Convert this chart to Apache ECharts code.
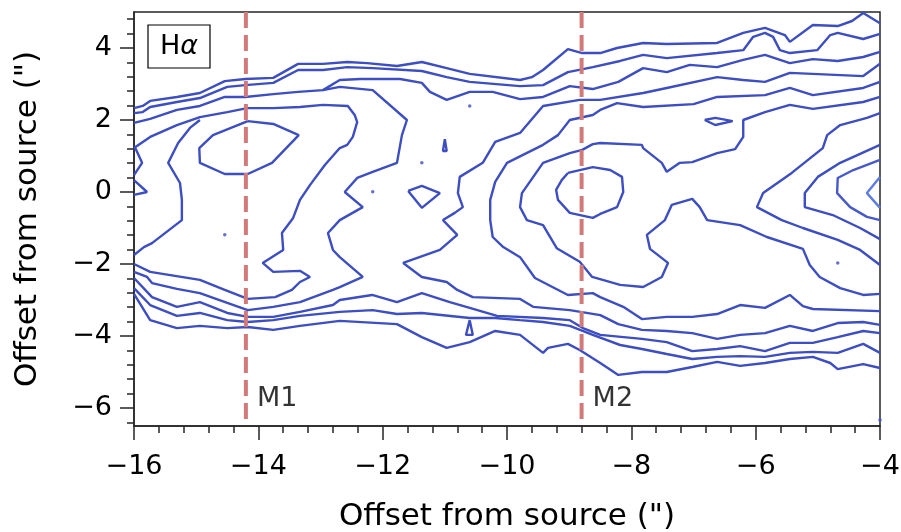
<!DOCTYPE html>
<html>
<head>
<meta charset="utf-8">
<script src="https://cdn.jsdelivr.net/npm/echarts@6/dist/echarts.min.js"></script>
<style>
  html, body { margin: 0; padding: 0; background: #ffffff; }
  #chart { width: 901px; height: 532px; }
</style>
</head>
<body>
<div id="chart"></div>
<script>
// Axis ticks
const xTicks = [-16, -14, -12, -10, -8, -6, -4];
const yTicks = [-6, -4, -2, 0, 2, 4];
const yMinorStep = 0.4;

// Reference positions of the two markers
const markers = [{ name: 'M1', x: -14.2 }, { name: 'M2', x: -8.8 }];
const markerLabelY = -5.75;

// Contour traces, [offset x, offset y] in arcsec
const topOuter = [[-16.00,2.33],[-15.86,2.39],[-15.74,2.53],[-15.31,2.64],[-14.94,2.75],[-14.54,3.08],[-14.21,3.14],[-13.76,3.17],[-13.36,3.56],[-12.96,3.56],[-12.57,3.61],[-12.25,3.58],[-11.77,3.50],[-11.37,3.61],[-10.97,3.44],[-10.60,3.28],[-9.79,3.11],[-9.60,3.19],[-9.42,3.39],[-9.02,3.97],[-8.79,3.86],[-8.50,3.86],[-8.23,4.00],[-7.81,4.14],[-7.43,4.11],[-6.62,4.14],[-6.20,4.42],[-5.85,4.56],[-5.53,4.36],[-5.45,4.17],[-5.08,4.64],[-4.68,4.61],[-4.45,4.75],[-4.27,4.97],[-4.00,4.69]];
const topSecond = [[-16.00,2.19],[-15.86,2.22],[-15.74,2.36],[-15.31,2.50],[-14.94,2.61],[-14.50,2.92],[-14.21,2.97],[-13.76,3.03],[-13.36,3.39],[-12.96,3.39],[-12.57,3.47],[-12.16,3.44],[-11.37,3.36],[-10.97,3.19],[-10.60,3.06],[-9.79,2.94],[-9.42,2.97],[-9.02,3.33],[-8.62,3.47],[-8.18,3.64],[-7.81,3.81],[-7.43,3.72],[-6.62,3.86],[-6.20,3.94],[-6.04,4.31],[-5.85,4.42],[-5.72,4.31],[-5.61,3.94],[-5.45,3.86],[-5.01,3.94],[-4.80,4.36],[-4.68,4.42],[-4.27,4.25],[-4.00,4.39]];
const topThird = [[-16.00,1.92],[-15.74,2.03],[-15.31,2.28],[-14.94,2.39],[-14.54,2.64],[-14.21,2.64],[-13.76,2.72],[-13.36,2.78],[-12.96,2.83],[-12.69,3.11],[-12.36,3.14],[-11.72,3.14],[-11.37,3.03],[-11.24,2.78],[-10.97,2.56],[-10.60,2.78],[-10.23,2.78],[-9.79,2.58],[-9.42,2.64],[-8.99,2.94],[-8.62,2.86],[-8.21,3.06],[-7.81,3.44],[-7.43,3.33],[-7.06,3.53],[-6.62,3.47],[-6.20,3.67],[-5.85,3.81],[-5.45,3.58],[-5.08,3.69],[-4.68,3.64],[-4.27,3.75],[-4.00,3.89]];
const bottomThird = [[-16.00,-2.39],[-15.71,-2.92],[-15.31,-3.19],[-14.94,-3.06],[-14.50,-3.36],[-14.17,-3.47],[-13.76,-3.47],[-13.33,-3.33],[-12.80,-3.14],[-12.69,-3.00],[-12.17,-2.86],[-11.77,-3.06],[-11.37,-2.81],[-10.92,-3.06],[-10.60,-3.22],[-10.16,-3.44],[-9.42,-3.50],[-8.99,-3.56],[-8.78,-3.78],[-8.50,-3.97],[-7.83,-4.08],[-7.43,-4.17],[-7.02,-4.42],[-6.62,-4.36],[-6.25,-4.28],[-5.85,-4.42],[-5.45,-4.19],[-5.08,-4.19],[-4.68,-4.03],[-4.27,-3.86],[-4.00,-3.92]];
const bottomSecond = [[-16.00,-2.67],[-15.74,-3.14],[-15.31,-3.44],[-14.94,-3.36],[-14.50,-3.56],[-14.17,-3.61],[-13.76,-3.56],[-13.33,-3.44],[-12.69,-3.33],[-12.16,-3.28],[-11.77,-3.39],[-11.37,-3.36],[-10.60,-3.50],[-10.19,-3.50],[-9.79,-3.56],[-9.42,-3.61],[-8.99,-3.72],[-8.62,-3.97],[-8.18,-4.25],[-7.83,-4.36],[-7.43,-4.50],[-7.02,-4.64],[-6.62,-4.58],[-6.25,-4.56],[-5.85,-4.58],[-5.45,-4.47],[-5.08,-4.44],[-4.68,-4.47],[-4.27,-4.22],[-4.00,-4.47]];
const bottomOuter = [[-16.00,-2.83],[-15.74,-3.56],[-15.31,-3.78],[-14.94,-3.72],[-14.50,-3.78],[-14.17,-3.75],[-13.76,-3.83],[-13.33,-3.72],[-12.69,-3.58],[-11.77,-3.67],[-11.37,-4.03],[-10.97,-4.33],[-10.60,-4.17],[-10.19,-3.86],[-9.79,-3.97],[-9.42,-4.47],[-9.34,-4.33],[-9.02,-4.22],[-8.83,-4.39],[-8.50,-4.75],[-8.21,-5.08],[-7.83,-5.00],[-7.43,-5.00],[-7.02,-4.86],[-6.62,-4.72],[-6.25,-4.83],[-5.85,-4.75],[-5.45,-4.64],[-5.08,-4.58],[-4.80,-4.75],[-4.68,-4.92],[-4.27,-4.78],[-4.00,-4.89]];
const centralBand = [[-4.00,3.56],[-4.27,3.22],[-5.45,3.31],[-5.85,3.06],[-6.20,3.11],[-6.62,3.19],[-7.43,2.89],[-7.81,2.75],[-8.50,2.56],[-8.83,2.56],[-9.42,2.39],[-9.79,1.64],[-10.19,1.39],[-10.39,0.81],[-10.76,0.42],[-10.79,-0.03],[-10.71,-0.42],[-10.84,-0.58],[-11.03,-0.78],[-10.80,-1.19],[-11.08,-1.61],[-11.67,-1.97],[-11.37,-2.36],[-10.97,-2.50],[-10.80,-2.72],[-10.55,-2.92],[-9.79,-2.97],[-9.58,-3.19],[-8.99,-3.28],[-8.50,-3.42],[-8.21,-3.67],[-7.83,-3.83],[-7.43,-3.86],[-7.02,-3.92],[-6.62,-4.08],[-6.25,-3.97],[-5.85,-3.92],[-5.45,-3.72],[-5.08,-3.86],[-4.68,-3.64],[-4.27,-3.61],[-4.00,-3.69]];
const m2Third = [[-4.00,3.06],[-4.27,2.89],[-5.08,2.69],[-5.45,2.89],[-5.85,2.69],[-6.62,2.64],[-7.00,2.44],[-7.81,2.36],[-8.23,2.47],[-8.50,2.28],[-8.62,2.14],[-8.99,2.00],[-9.18,1.58],[-9.42,1.31],[-10.00,0.81],[-10.19,0.28],[-10.27,-0.22],[-10.27,-0.78],[-10.23,-1.25],[-10.06,-1.53],[-9.79,-1.81],[-9.55,-2.39],[-9.02,-2.86],[-8.62,-2.81],[-8.50,-2.92],[-8.13,-3.19],[-7.83,-3.53],[-7.43,-3.47],[-7.02,-3.47],[-6.62,-3.39],[-6.25,-3.14],[-5.85,-3.22],[-5.45,-2.86],[-5.24,-3.17],[-5.08,-3.25],[-4.00,-3.31]];
const m2Second = [[-4.00,2.64],[-4.27,2.50],[-5.08,2.31],[-5.45,2.42],[-5.85,2.22],[-6.20,2.00],[-6.20,1.53],[-6.33,1.19],[-6.62,1.08],[-7.02,0.83],[-7.22,0.81],[-7.43,0.56],[-7.51,0.81],[-7.81,1.22],[-7.83,1.31],[-8.50,1.36],[-8.62,1.33],[-8.79,1.17],[-8.99,1.08],[-9.42,0.81],[-9.76,-0.03],[-9.79,-0.42],[-9.68,-0.78],[-9.42,-0.92],[-9.20,-1.56],[-8.83,-1.94],[-8.63,-2.36],[-8.18,-2.58],[-7.81,-2.64],[-7.51,-2.36],[-7.41,-1.97],[-7.70,-1.58],[-7.75,-1.19],[-7.46,-0.78],[-7.35,-0.36],[-7.02,-0.19],[-6.90,-0.42],[-6.78,-0.78],[-6.25,-0.92],[-5.82,-1.25],[-5.24,-1.58],[-5.13,-2.03],[-4.97,-2.36],[-4.64,-2.67],[-4.27,-2.86],[-4.00,-2.83]];
const m2Core = [[-9.02,0.53],[-8.62,0.69],[-8.34,0.61],[-8.15,0.42],[-8.13,0.00],[-8.23,-0.42],[-8.50,-0.61],[-8.62,-0.72],[-8.99,-0.58],[-9.18,-0.22],[-9.21,0.06],[-9.12,0.33],[-9.02,0.53]];
const eyeLoop = [[-6.82,2.00],[-6.65,1.86],[-6.37,1.97],[-6.65,2.06],[-6.82,2.00]];
const edgeFirst = [[-4.00,2.19],[-4.21,2.06],[-4.64,1.86],[-4.85,1.58],[-4.92,1.22],[-5.42,0.53],[-5.88,-0.03],[-5.98,-0.42],[-5.58,-0.78],[-5.24,-1.00],[-4.68,-1.33],[-4.32,-1.61],[-4.00,-2.03]];
const edgeSecond = [[-4.00,1.31],[-4.64,0.81],[-5.00,0.42],[-5.21,-0.03],[-5.21,-0.42],[-4.76,-0.64],[-4.32,-1.00],[-4.00,-1.31]];
const edgeThird = [[-4.00,0.89],[-4.43,0.61],[-4.68,0.39],[-4.69,-0.03],[-4.48,-0.42],[-4.21,-0.69],[-4.00,-0.78]];
const edgeCore = [[-4.00,0.42],[-4.21,-0.03],[-4.00,-0.44]];
const m1Core = [[-14.17,1.97],[-13.76,1.89],[-13.35,1.58],[-13.78,0.81],[-14.17,0.50],[-14.54,0.50],[-14.94,0.81],[-14.95,1.22],[-14.73,1.58],[-14.17,1.97]];
const m1Lobe = [[-16.00,1.22],[-15.74,1.53],[-15.31,1.86],[-14.94,2.08],[-14.50,2.22],[-14.18,2.33],[-13.76,2.33],[-13.33,2.36],[-12.96,2.42],[-12.56,2.39],[-12.45,2.14],[-12.41,1.94],[-12.48,1.53],[-12.57,1.31],[-12.69,1.22],[-12.93,0.75],[-13.17,0.19],[-13.33,-0.22],[-13.44,-0.72],[-13.62,-1.14],[-13.60,-1.61],[-13.93,-1.97],[-13.76,-2.22],[-13.33,-2.19],[-13.17,-2.36],[-13.33,-2.50],[-13.46,-2.72],[-13.73,-2.92],[-14.17,-2.97],[-14.54,-2.72],[-14.94,-2.44],[-15.74,-2.22],[-16.00,-2.00]];
const m1Outer = [[-12.96,2.83],[-12.69,2.92],[-12.16,2.83],[-11.61,2.00],[-11.69,1.58],[-11.77,0.81],[-12.16,0.56],[-12.41,0.39],[-12.61,0.00],[-12.32,-0.42],[-12.69,-0.78],[-12.88,-1.14],[-12.80,-1.61],[-12.69,-1.81],[-12.32,-2.36],[-12.69,-2.64],[-12.80,-2.72],[-13.33,-3.06],[-13.76,-3.19],[-14.17,-3.28],[-14.50,-3.08],[-14.94,-2.81],[-15.31,-2.69],[-15.71,-2.53],[-15.79,-2.36],[-16.00,-2.22]];
const m1Inner = [[-16.00,-1.75],[-15.84,-1.53],[-15.71,-1.42],[-15.23,-0.78],[-15.23,-0.22],[-15.26,0.25],[-15.45,0.81],[-15.29,1.36],[-15.10,1.78],[-14.94,2.00]];
const edgeNotch = [[-16.00,0.47],[-15.87,0.81],[-15.97,1.19],[-16.00,1.22]];
const edgeBump = [[-16.00,0.33],[-15.79,0.00],[-16.00,-0.08]];
const triangleLoop = [[-11.59,0.03],[-11.37,0.17],[-11.08,-0.03],[-11.37,-0.44],[-11.59,0.03]];
const dropUpper = [[-11.00,1.47],[-11.03,1.14],[-10.97,1.14],[-11.00,1.47]];
const dropLower = [[-10.60,-3.56],[-10.66,-3.97],[-10.55,-3.97],[-10.60,-3.56]];
const specks = [[-10.60,2.39],[-11.37,0.81],[-12.16,0.01],[-14.54,-1.19],[-4.68,-1.97],[-4.00,-6.33]];

const contours = [
  topOuter, topSecond, topThird, bottomThird, bottomSecond, bottomOuter,
  centralBand, m2Third, m2Second, m2Core, eyeLoop,
  edgeFirst, edgeSecond, m1Core, m1Lobe, m1Outer, m1Inner,
  edgeNotch, edgeBump, triangleLoop, dropUpper, dropLower
];

const LINE_BLUE = '#3d4ec2';
const FONT = 'DejaVu Sans';
const AXIS_GREY = '#262626';
const minusSign = v => String(v).replace('-', '\u2212');

const yMinor = [];
for (let k = Math.ceil(-6.5 / yMinorStep); k * yMinorStep <= 5 + 1e-9; k++) {
  const v = Math.round(k * yMinorStep * 10) / 10;
  if (Math.abs(v / 2 - Math.round(v / 2)) > 1e-6) yMinor.push(v);
}

const series = contours.map(c => ({
  type: 'line', data: c, showSymbol: false, symbol: 'none', silent: true,
  lineStyle: { color: LINE_BLUE, width: 2.4 }, z: 3
}));
series.push({
  type: 'line', data: edgeThird, showSymbol: false, symbol: 'none', silent: true,
  lineStyle: { color: '#4659c9', width: 2.4 }, z: 3
});
series.push({
  type: 'line', data: edgeCore, showSymbol: false, symbol: 'none', silent: true,
  lineStyle: { color: '#5d7ce4', width: 2.4 }, z: 3
});
series.push({
  type: 'scatter', data: specks, symbolSize: 3.5, silent: true,
  itemStyle: { color: LINE_BLUE }, z: 3
});
markers.forEach(m => {
  series.push({
    type: 'line', data: [[m.x, 5], [m.x, -6.5]], showSymbol: false, symbol: 'none', silent: true,
    lineStyle: { color: '#d27a7a', width: 4, type: [16, 7] }, z: 5
  });
});
series.push({
  type: 'scatter', symbolSize: 0, silent: true, z: 6,
  data: markers.map(m => ({ value: [m.x, markerLabelY], name: m.name })),
  label: {
    show: true, position: 'right', distance: 11, formatter: p => p.name,
    fontFamily: FONT, fontSize: 27, color: '#000'
  }
});

const chart = echarts.init(document.getElementById('chart'), null, { renderer: 'canvas' });
chart.setOption({
  animation: false,
  backgroundColor: '#ffffff',
  grid: {
    left: 134, right: 21, top: 12, bottom: 106, containLabel: false, outerBoundsMode: 'none',
    show: true, borderColor: AXIS_GREY, borderWidth: 1.5, backgroundColor: 'transparent'
  },
  xAxis: {
    type: 'value', min: xTicks[0], max: xTicks[xTicks.length - 1], interval: 2,
    name: 'Offset from source (")', nameLocation: 'middle', nameGap: 75,
    nameTextStyle: { fontFamily: FONT, fontSize: 31, color: '#000' },
    axisLine: { show: true, onZero: false, lineStyle: { color: AXIS_GREY, width: 1.5 } },
    axisTick: { show: true, length: 14, lineStyle: { color: AXIS_GREY, width: 1.5 } },
    minorTick: { show: true, splitNumber: 5, length: 7, lineStyle: { color: AXIS_GREY, width: 1.5 } },
    axisLabel: { fontFamily: FONT, fontSize: 27, color: '#000', margin: 27, formatter: minusSign },
    splitLine: { show: false }, minorSplitLine: { show: false }
  },
  yAxis: [{
    type: 'value', min: -6.5, max: 5, position: 'left',
    name: 'Offset from source (")', nameLocation: 'middle', nameGap: 91,
    nameTextStyle: { fontFamily: FONT, fontSize: 31, color: '#000' },
    axisLine: { show: true, onZero: false, lineStyle: { color: AXIS_GREY, width: 1.5 } },
    axisTick: { show: true, length: 14, customValues: yTicks, lineStyle: { color: AXIS_GREY, width: 1.5 } },
    axisLabel: { fontFamily: FONT, fontSize: 27, color: '#000', margin: 22, customValues: yTicks, formatter: minusSign },
    splitLine: { show: false }
  }, {
    type: 'value', min: -6.5, max: 5, position: 'left',
    axisLine: { show: false, onZero: false },
    axisTick: { show: true, length: 7, customValues: yMinor, lineStyle: { color: AXIS_GREY, width: 1.5 } },
    axisLabel: { show: false },
    splitLine: { show: false }
  }],
  graphic: [
    { type: 'rect', shape: { x: 148, y: 25, width: 62, height: 43 }, style: { fill: '#fff', stroke: '#000', lineWidth: 1.2 }, z: 100 },
    { type: 'text', x: 179, y: 47, z: 101, style: {
        text: '{h|H}{a|α}', align: 'center', verticalAlign: 'middle', fill: '#000',
        rich: { h: { fontFamily: FONT, fontSize: 27 }, a: { fontFamily: FONT, fontSize: 27, fontStyle: 'italic' } }
    } }
  ],
  series: series
});
</script>
</body>
</html>
